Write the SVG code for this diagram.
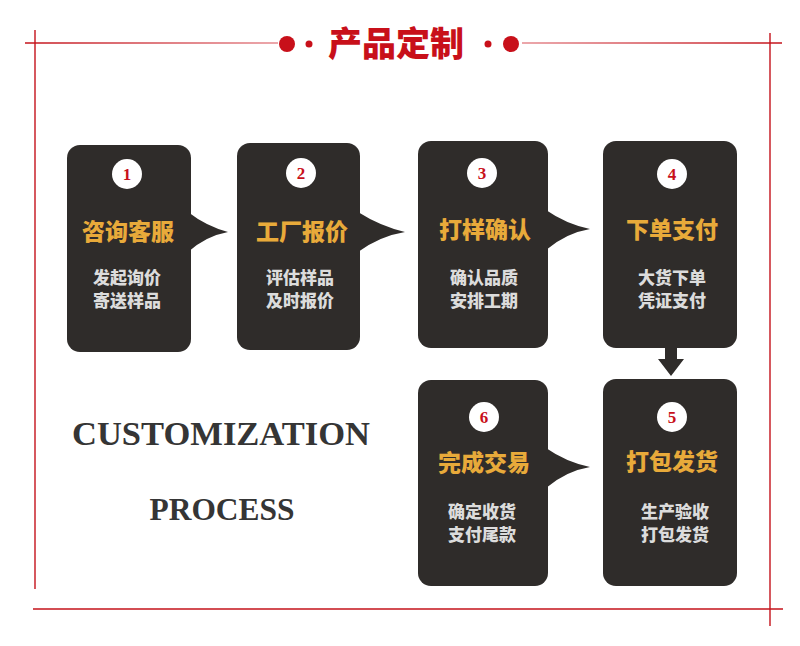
<svg xmlns="http://www.w3.org/2000/svg" width="800" height="646" viewBox="0 0 800 646">
<defs>
<linearGradient id="lg" gradientUnits="userSpaceOnUse" x1="25" y1="0" x2="278" y2="0"><stop offset="0" stop-color="#c4121a"/><stop offset="1" stop-color="#e58a8f"/></linearGradient>
<linearGradient id="rg" gradientUnits="userSpaceOnUse" x1="522" y1="0" x2="782" y2="0"><stop offset="0" stop-color="#e58a8f"/><stop offset="1" stop-color="#c4121a"/></linearGradient>
</defs>
<style>
.box{fill:#2f2c2a}
.circ{fill:#ffffff}
.num{font-family:"Liberation Serif",serif;font-weight:bold;font-size:17px;fill:#c8101a;text-anchor:middle}
.head{font-family:"Noto Sans CJK SC",sans-serif;font-weight:900;font-size:23px;fill:#e8aa3a;text-anchor:middle}
.sub{font-family:"Noto Sans CJK SC",sans-serif;font-weight:900;font-size:17px;fill:#dcdcdc;text-anchor:middle}
.frame{stroke:#c4121a;stroke-width:1.4;fill:none}
.en{font-family:"Liberation Serif",serif;font-weight:bold;fill:#353535;text-anchor:middle}
</style>
<rect width="800" height="646" fill="#ffffff"/>
<g id="frame">
<line x1="25" y1="43" x2="278" y2="43" stroke="url(#lg)" stroke-width="1.6"/>
<line x1="522" y1="43" x2="782" y2="43" stroke="url(#rg)" stroke-width="1.6"/>
<line class="frame" x1="35" y1="30" x2="35" y2="589"/>
<line class="frame" x1="770" y1="33" x2="770" y2="626"/>
<line class="frame" x1="33" y1="609" x2="783" y2="609"/>
</g>
<g id="title">
<circle cx="287" cy="44" r="8" fill="#c8101a"/>
<circle cx="309" cy="44" r="3.5" fill="#c8101a"/>
<text x="396" y="56" font-family="Noto Sans CJK SC,sans-serif" font-weight="900" font-size="34" fill="#c8101a" text-anchor="middle">产品定制</text>
<circle cx="488" cy="44" r="3.5" fill="#c8101a"/>
<circle cx="511" cy="44" r="8" fill="#c8101a"/>
</g>
<g id="connectors">
<path class="box" d="M188,212 Q206,226 228,232 Q206,236 188,252 Z"/>
<path class="box" d="M358,212 Q380,226 405,232 Q380,236 358,252 Z"/>
<path class="box" d="M546,210 Q566,224 590,229 Q566,233 546,250 Z"/>
<path class="box" d="M546,448 Q566,462 590,467 Q566,471 546,488 Z"/>
<path class="box" d="M665,347 L677,347 L677,359 L684,359 L671,376 L658,359 L665,359 Z"/>
</g>
<g id="node1">
<rect class="box" x="67" y="145" width="124" height="207" rx="13"/>
<circle class="circ" cx="127" cy="174" r="15"/>
<text class="num" x="127" y="180">1</text>
<text class="head" x="128" y="240">咨询客服</text>
<text class="sub" x="127" y="284">发起询价</text>
<text class="sub" x="127" y="307">寄送样品</text>
</g>
<g id="node2">
<rect class="box" x="237" y="143" width="123" height="207" rx="13"/>
<circle class="circ" cx="301" cy="173" r="15"/>
<text class="num" x="301" y="179">2</text>
<text class="head" x="302" y="240">工厂报价</text>
<text class="sub" x="300" y="284">评估样品</text>
<text class="sub" x="300" y="307">及时报价</text>
</g>
<g id="node3">
<rect class="box" x="418" y="141" width="130" height="207" rx="13"/>
<circle class="circ" cx="482" cy="173" r="15"/>
<text class="num" x="482" y="179">3</text>
<text class="head" x="485" y="238">打样确认</text>
<text class="sub" x="484" y="284">确认品质</text>
<text class="sub" x="484" y="307">安排工期</text>
</g>
<g id="node4">
<rect class="box" x="603" y="141" width="134" height="207" rx="13"/>
<circle class="circ" cx="672" cy="174" r="15"/>
<text class="num" x="672" y="180">4</text>
<text class="head" x="672" y="238">下单支付</text>
<text class="sub" x="672" y="284">大货下单</text>
<text class="sub" x="672" y="307">凭证支付</text>
</g>
<g id="node5">
<rect class="box" x="603" y="379" width="134" height="207" rx="13"/>
<circle class="circ" cx="672" cy="417" r="15"/>
<text class="num" x="672" y="423">5</text>
<text class="head" x="672" y="470">打包发货</text>
<text class="sub" x="675" y="518">生产验收</text>
<text class="sub" x="675" y="541">打包发货</text>
</g>
<g id="node6">
<rect class="box" x="418" y="380" width="130" height="206" rx="13"/>
<circle class="circ" cx="484" cy="417" r="15"/>
<text class="num" x="484" y="423">6</text>
<text class="head" x="484" y="471">完成交易</text>
<text class="sub" x="482" y="518">确定收货</text>
<text class="sub" x="482" y="541">支付尾款</text>
</g>
<g id="caption">
<text class="en" x="221" y="445" font-size="33" textLength="298" lengthAdjust="spacingAndGlyphs">CUSTOMIZATION</text>
<text class="en" x="222" y="520" font-size="31" textLength="145" lengthAdjust="spacingAndGlyphs">PROCESS</text>
</g>
</svg>
